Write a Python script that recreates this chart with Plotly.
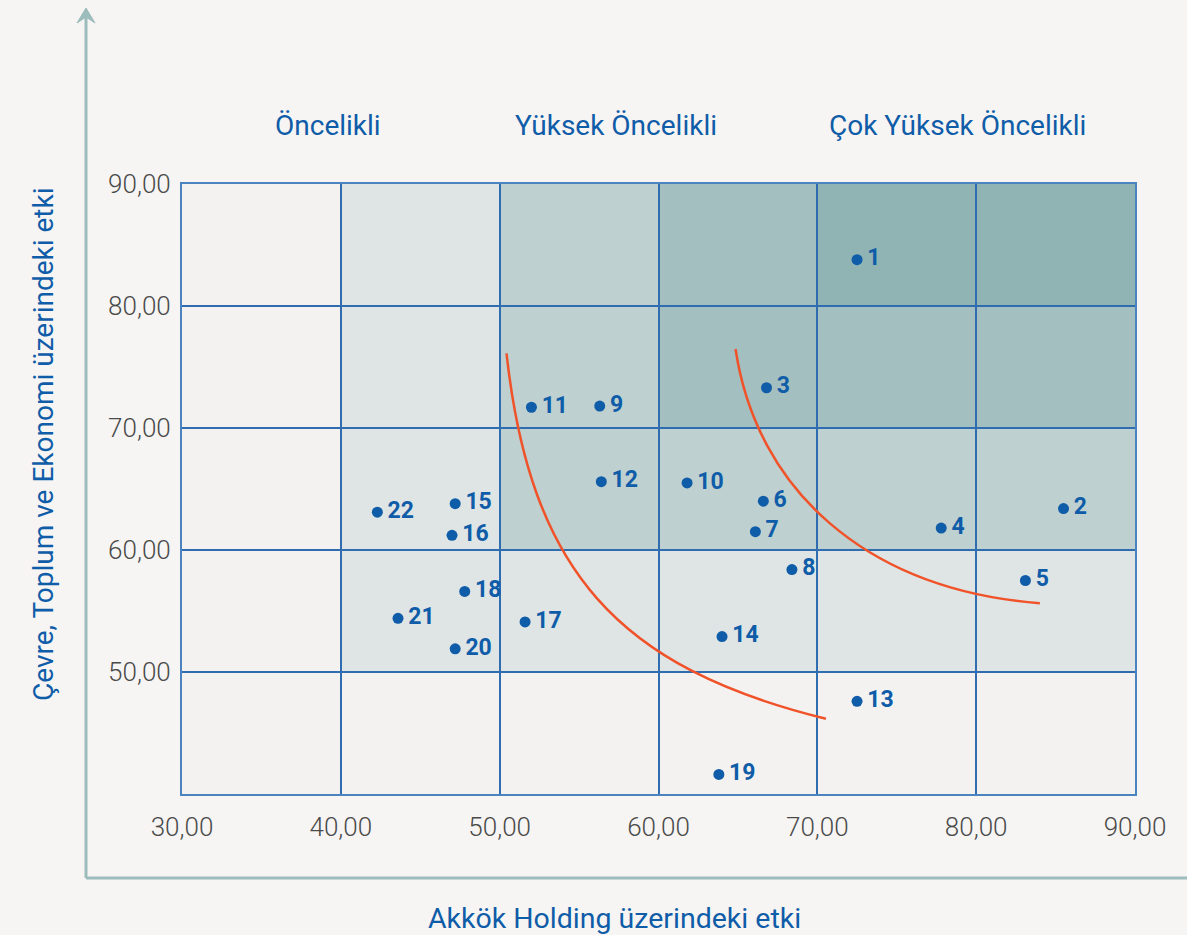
import plotly.graph_objects as go

# ---------------- data ----------------
point_labels = [str(i) for i in range(1, 23)]
x_values = [72.5, 85.5, 66.8, 77.8, 83.1, 66.6, 66.1, 68.4, 56.3, 61.8, 52.0,
            56.4, 72.5, 64.0, 47.2, 47.0, 51.6, 47.8, 63.8, 47.2, 43.6, 42.3]
y_values = [83.8, 63.4, 73.3, 61.8, 57.5, 64.0, 61.5, 58.4, 71.8, 65.5, 71.7,
            65.6, 47.6, 52.9, 63.8, 61.2, 54.1, 56.6, 41.6, 51.9, 54.4, 63.1]

x_ticks = [30, 40, 50, 60, 70, 80, 90]
y_ticks = [50, 60, 70, 80, 90]
x_edges = [30, 40, 50, 60, 70, 80, 90]
y_edges = [40, 50, 60, 70, 80, 90]
# shading level of each cell (rows bottom -> top, columns left -> right)
cell_levels = [
    [0, 0, 0, 0, 0, 0],
    [0, 1, 1, 1, 1, 1],
    [0, 1, 2, 2, 2, 2],
    [0, 1, 2, 3, 3, 3],
    [0, 1, 2, 3, 4, 4],
]
level_colors = ["#f3f2f0", "#dfe5e5", "#bed0d0", "#a4bfbf", "#90b3b3"]

header_texts = ["Öncelikli", "Yüksek Öncelikli", "Çok Yüksek Öncelikli"]
header_x = [39.2, 57.3, 78.8]

# threshold curves (cubic Bezier: start, ctrl1, ctrl2, end) in data units
curve1 = [(50.43, 76.12), (51.94, 58.25), (57.44, 50.37), (70.54, 46.17)]
curve2 = [(64.85, 76.48), (66.17, 65.0), (72.99, 56.78), (84.01, 55.63)]

x_title = "Akkök Holding üzerindeki etki"
y_title = "Çevre, Toplum ve Ekonomi üzerindeki etki"

# ---------------- styling ----------------
BLUE = "#0f5ca8"
GRID = "#2f6db0"
ORANGE = "#f0532a"
ARROW = "#9dbcbc"
FONT = "Roboto"

W, H = 1187, 935
L, R, T, B = 182, 52, 184, 141
pw, ph = W - L - R, H - T - B


def px_to_paper(px, py):
    return (px - L) / pw, (H - B - py) / ph


fig = go.Figure()

fig.add_trace(go.Scatter(
    x=x_values, y=y_values, mode="markers+text",
    text=["\u200a" + s for s in point_labels], textposition="middle right",
    marker=dict(size=11, color=BLUE),
    textfont=dict(family=FONT, size=23, color=BLUE, weight="bold"),
    cliponaxis=False, hoverinfo="skip", showlegend=False,
))

shapes = []
for r in range(len(y_edges) - 1):
    for c in range(len(x_edges) - 1):
        lvl = cell_levels[r][c]
        if lvl == 0:
            continue
        shapes.append(dict(type="rect", xref="x", yref="y",
                           x0=x_edges[c], x1=x_edges[c + 1],
                           y0=y_edges[r], y1=y_edges[r + 1],
                           fillcolor=level_colors[lvl], line=dict(width=0),
                           layer="below"))

for cv in (curve1, curve2):
    (a, b), (c, d), (e, f), (g, h) = cv
    shapes.append(dict(type="path", xref="x", yref="y",
                       path=f"M {a},{b} C {c},{d} {e},{f} {g},{h}",
                       line=dict(color=ORANGE, width=2.5), layer="above"))

# decorative axis arrows
vx, vtop = px_to_paper(86, 14)
_, vbot = px_to_paper(86, 878)
hx1, _ = px_to_paper(1187, 878)
shapes.append(dict(type="line", xref="paper", yref="paper",
                   x0=vx, x1=vx, y0=vbot, y1=vtop,
                   line=dict(color=ARROW, width=3)))
shapes.append(dict(type="line", xref="paper", yref="paper",
                   x0=vx, x1=hx1, y0=vbot, y1=vbot,
                   line=dict(color=ARROW, width=3)))
p1 = px_to_paper(77, 23)
p2 = px_to_paper(86, 8)
p3 = px_to_paper(95, 23)
p4 = px_to_paper(86, 17)
shapes.append(dict(type="path", xref="paper", yref="paper",
                   path=f"M {p1[0]},{p1[1]} L {p2[0]},{p2[1]} L {p3[0]},{p3[1]} L {p4[0]},{p4[1]} Z",
                   fillcolor=ARROW, line=dict(color=ARROW, width=1)))

annotations = []
for t, hx in zip(header_texts, header_x):
    annotations.append(dict(text=t, x=hx, xref="x", y=px_to_paper(0, 125)[1],
                            yref="paper", showarrow=False,
                            xanchor="center", yanchor="middle",
                            font=dict(family=FONT, size=28, color=BLUE)))
tx, ty = px_to_paper(614, 918)
annotations.append(dict(text=x_title, x=tx, y=ty, xref="paper", yref="paper",
                        showarrow=False, xanchor="center", yanchor="middle",
                        font=dict(family=FONT, size=28.5, color=BLUE)))
yx, yy = px_to_paper(43, 444)
annotations.append(dict(text=y_title, x=yx, y=yy, xref="paper", yref="paper",
                        showarrow=False, textangle=-90,
                        xanchor="center", yanchor="middle",
                        font=dict(family=FONT, size=28, color=BLUE)))

fig.update_layout(
    width=W, height=H, autosize=False,
    margin=dict(l=L, r=R, t=T, b=B),
    paper_bgcolor="#f6f5f3", plot_bgcolor="#f3f2f0",
    separators=",.",
    shapes=shapes, annotations=annotations,
    showlegend=False,
)
fig.update_xaxes(range=[30, 90], tickvals=x_ticks, tickformat=".2f",
                 showgrid=True, gridcolor=GRID, gridwidth=1.5,
                 showline=True, mirror=True, linecolor="#4a84c0", linewidth=2,
                 zeroline=False, ticks="", ticklabelstandoff=9,
                 tickfont=dict(family=FONT, size=26, color="#4a4a4a", weight=300))
fig.update_yaxes(range=[40, 90], tickvals=y_ticks, tickformat=".2f",
                 showgrid=True, gridcolor=GRID, gridwidth=1.5,
                 showline=True, mirror=True, linecolor="#4a84c0", linewidth=2,
                 zeroline=False, ticks="", ticklabelstandoff=4,
                 tickfont=dict(family=FONT, size=26, color="#4a4a4a", weight=300))

fig.write_html(
    "out.html",
    config={"displayModeBar": False},
    post_script="document.body.style.margin='0px';document.body.style.background='#f6f5f3';",
)
